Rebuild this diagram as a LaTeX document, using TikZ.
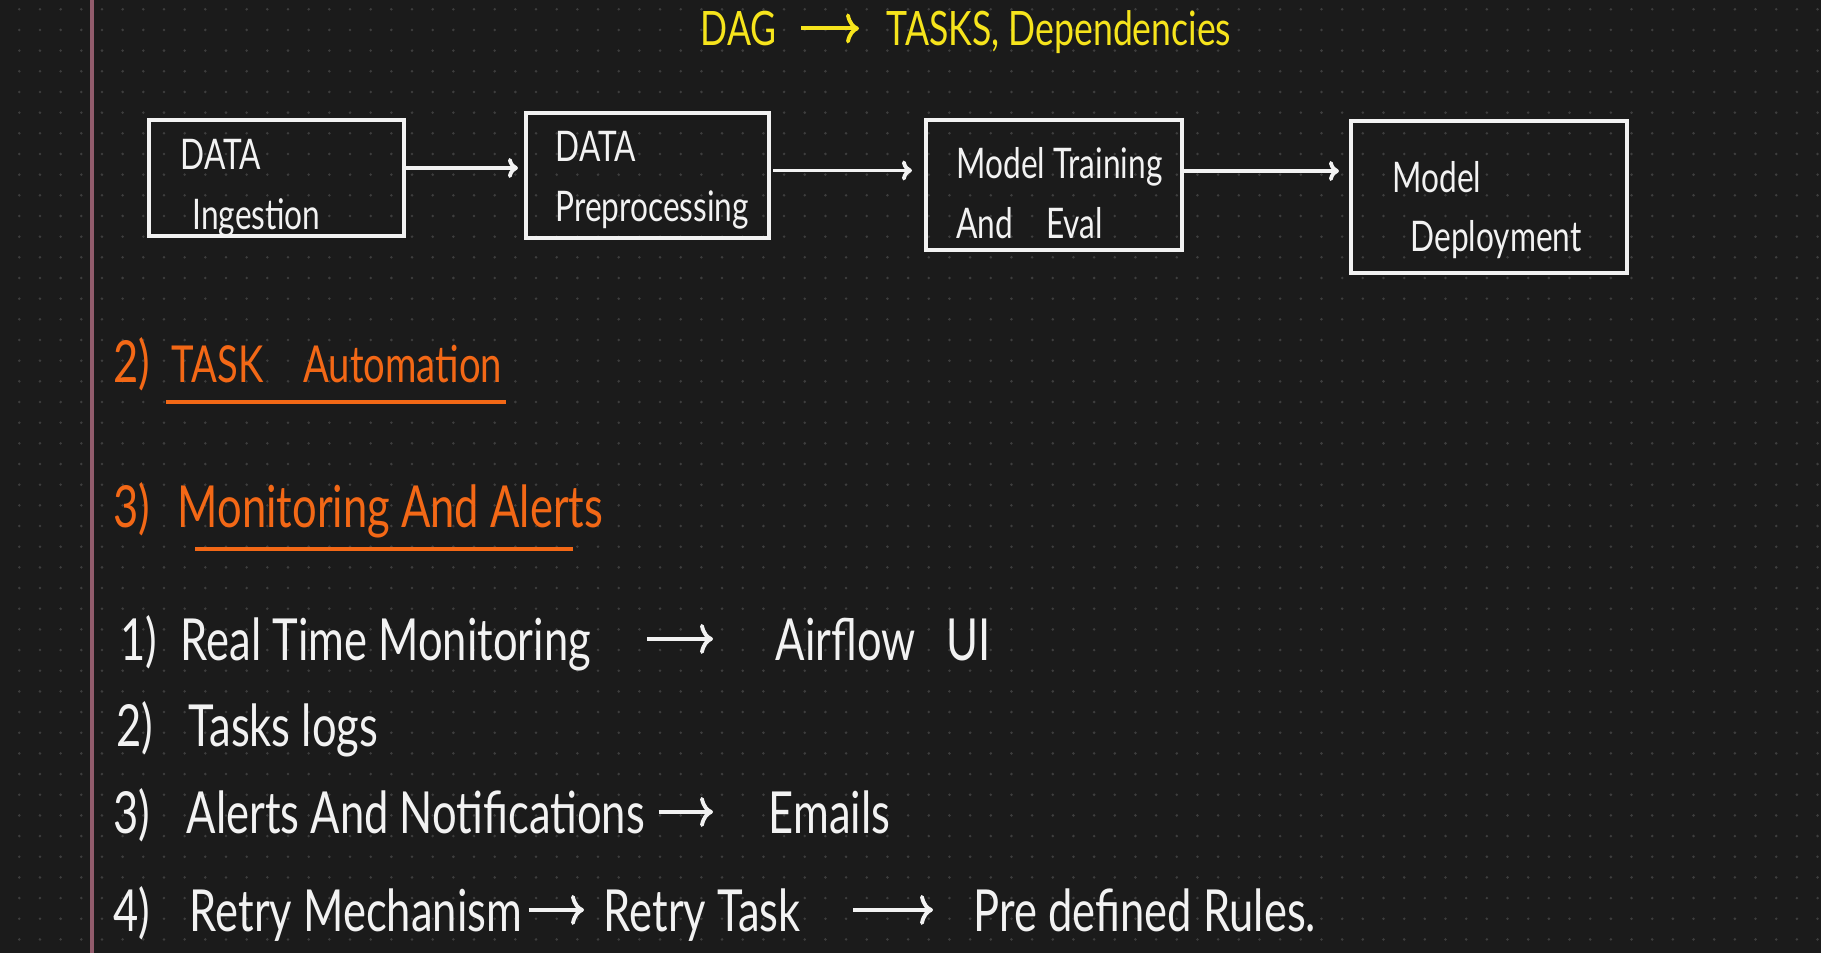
\documentclass[tikz,border=0pt]{standalone}
\usepackage{fontspec}
\usepackage{tikz}
\usetikzlibrary{arrows,arrows.meta,positioning,calc}
\newfontfamily\handfont{Lato}[FakeStretch=0.75]
\usepackage{xcolor}
\definecolor{boardbg}{RGB}{27,27,27}
\definecolor{griddot}{RGB}{62,62,62}
\definecolor{marginline}{RGB}{146,92,108}
\definecolor{chalk}{RGB}{242,242,242}
\definecolor{hiyellow}{RGB}{246,228,28}
\definecolor{hiorange}{RGB}{243,104,22}

\begin{document}
\begin{tikzpicture}[
    every node/.style={inner sep=0pt},
    stage/.style={draw=chalk, line width=1.2pt},
    stagetext/.style={anchor=west, align=left, text=chalk, font=\handfont\fontsize{12}{17}\selectfont},
    listtext/.style={anchor=base west, text=chalk, font=\handfont\fontsize{16.5}{20}\selectfont, text height=12pt, text depth=0pt},
    heading/.style={listtext, text=hiorange},
    titletext/.style={listtext, text=hiyellow, font=\handfont\fontsize{13.5}{16}\selectfont, text height=10pt},
    flow/.style={draw=chalk, line width=1.1pt, -{Computer Modern Rightarrow[length=1.3mm, width=3mm]}},
    boxflow/.style={flow, -{Computer Modern Rightarrow[length=1mm, width=2mm]}},
    griddots/.style={draw=griddot, line width=0.8pt, line cap=round, dash pattern=on 0pt off 0.2067cm},
]
    \useasboundingbox (0,0) rectangle (18.21,-9.53);
    \fill[boardbg] (0,0) rectangle (18.21,-9.53);

    % dotted paper
    \foreach \r in {0,...,45} {
        \draw[griddots] (0.193,{-0.093-0.2067*\r}) -- (18.21,{-0.093-0.2067*\r});
    }
    \draw[marginline, line width=0.9pt] (0.92,0) -- (0.92,-9.53);

    % Title
    \node[titletext] (dag) at (7.00,-0.46) {DAG};
    \node[titletext] (deps) at (8.86,-0.46) {TASKS, Dependencies};
    \draw[flow, draw=hiyellow, shorten <=0.24cm, shorten >=0.27cm] (dag.east) -- (dag.east -| deps.west);

    % Pipeline stages
    \node[stage, minimum width=2.55cm, minimum height=1.16cm] (ingest) at (2.765,-1.78) {};
    \node[stage, minimum width=2.43cm, minimum height=1.25cm] (prep) at (6.475,-1.755) {};
    \node[stage, minimum width=2.56cm, minimum height=1.30cm] (train) at (10.54,-1.85) {};
    \node[stage, minimum width=2.76cm, minimum height=1.52cm] (deploy) at (14.89,-1.97) {};

    \node[stagetext] (ingestlbl) at ([xshift=0.33cm, yshift=-0.10cm]ingest.west) {DATA\\\hspace*{1.2mm}Ingestion};
    \node[stagetext] (preplbl) at ([xshift=0.31cm, yshift=-0.05cm]prep.west) {DATA\\Preprocessing};
    \node[stagetext] (trainlbl) at ([xshift=0.32cm, yshift=-0.08cm]train.west) {Model Training\\And\hspace{2.5mm} Eval};
    \node[stagetext] (deploylbl) at ([xshift=0.43cm, yshift=-0.13cm]deploy.west) {Model\\\hspace*{1.8mm}Deployment};

    \draw[boxflow, shorten >=0.06cm] ([yshift=0.10cm]ingest.east) -- ([yshift=0.10cm]ingest.east -| prep.west);
    \draw[boxflow, shorten <=0.02cm, shorten >=0.12cm] ([yshift=0.05cm]prep.east) -- ([yshift=0.05cm]prep.east -| train.west);
    \draw[boxflow, shorten >=0.10cm] ([yshift=0.14cm]train.east) -- ([yshift=0.14cm]train.east -| deploy.west);

    % Sections
    \node[heading] (h2num) at (1.13,-3.83) {2)};
    \node[heading, font=\handfont\fontsize{14.5}{18}\selectfont] (taskauto) at (1.71,-3.83) {TASK\hspace{3mm} Automation};
    \draw[hiorange, line width=1.2pt] (1.66,-4.02) -- (5.06,-4.02);

    \node[heading] (h3num) at (1.13,-5.28) {3)};
    \node[heading] (monalert) at (1.77,-5.28) {Monitoring And Alerts};
    \draw[hiorange, line width=1.2pt] (1.95,-5.49) -- (5.73,-5.49);

    % Monitoring points
    \node[listtext] (n1) at (1.20,-6.60) {1)};
    \node[listtext] (rtm) at (1.80,-6.60) {Real Time Monitoring};
    \node[listtext] (airflow) at (7.75,-6.60) {Airflow\hspace{2mm} UI};
    \draw[flow, shorten <=0.56cm, shorten >=0.62cm] (rtm.east) -- (rtm.east -| airflow.west);

    \node[listtext] (n2) at (1.16,-7.46) {2)};
    \node[listtext] (tlogs) at (1.88,-7.46) {Tasks logs};

    \node[listtext] (n3) at (1.13,-8.33) {3)};
    \node[listtext] (alerts) at (1.86,-8.33) {Alerts And Notifications};
    \node[listtext] (emails) at (7.68,-8.33) {Emails};
    \draw[flow, shorten <=0.13cm, shorten >=0.55cm] (alerts.east) -- (alerts.east -| emails.west);

    \node[listtext] (n4) at (1.13,-9.31) {4)};
    \node[listtext] (rmech) at (1.89,-9.31) {Retry Mechanism};
    \node[listtext] (rtask) at (6.03,-9.31) {Retry Task};
    \node[listtext] (rules) at (9.73,-9.31) {Pre defined Rules.};
    \draw[flow, shorten <=0.06cm, shorten >=0.19cm] (rmech.east) -- (rmech.east -| rtask.west);
    \draw[flow, shorten <=0.52cm, shorten >=0.40cm] (rtask.east) -- (rtask.east -| rules.west);
\end{tikzpicture}
\end{document}
